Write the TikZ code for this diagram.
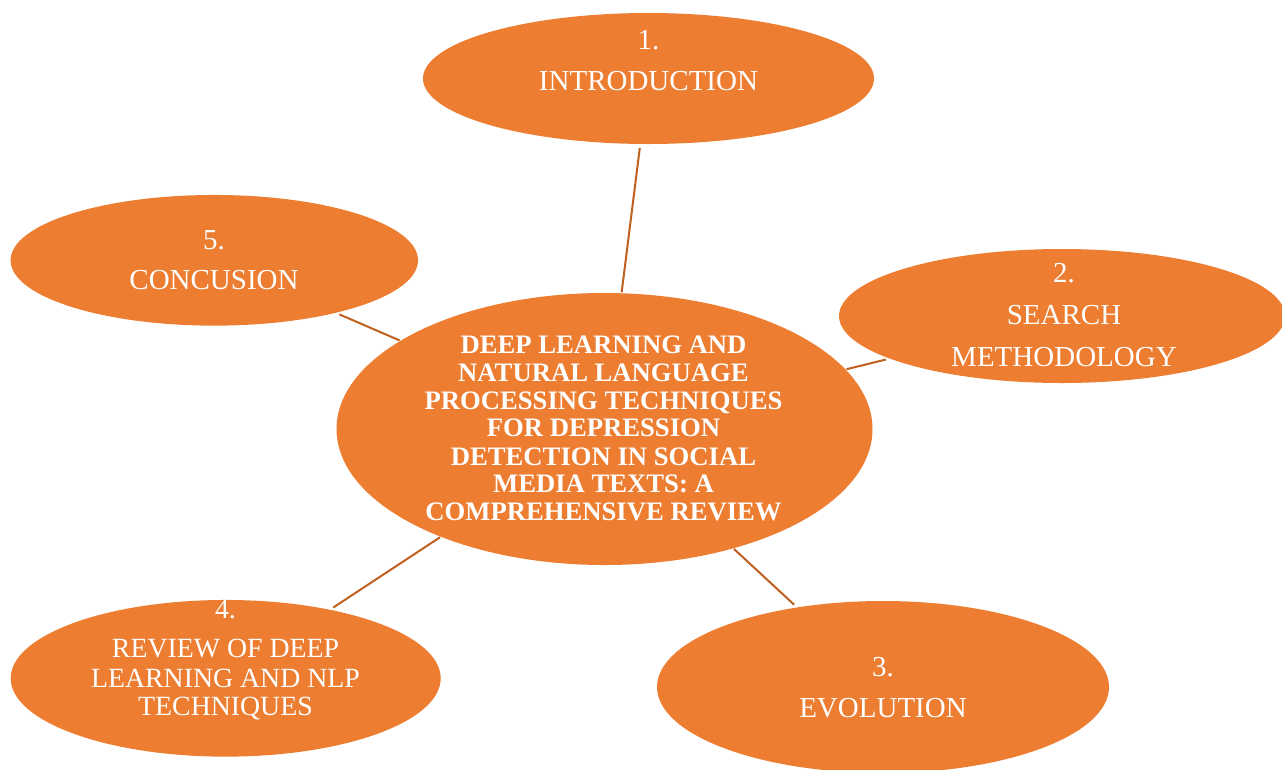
\documentclass[tikz,border=0pt]{standalone}
\usepackage{fontspec}
\setmainfont{Liberation Serif}
\usetikzlibrary{shapes.geometric}
\definecolor{orangefill}{HTML}{ED7D31}
\definecolor{linkcol}{HTML}{C0601F}
\tikzset{
  oval/.style={ellipse, fill=orangefill, draw=none, inner sep=0pt, outer sep=0pt},
  conn/.style={draw=linkcol, line width=1.5pt, shorten >=3pt, shorten <=0.75pt},
  lbl/.style={text=white, anchor=base, inner sep=0pt, font=\fontsize{21.75}{26}\selectfont},
  lblr/.style={text=white, anchor=base, inner sep=0pt, font=\fontsize{20.85}{25}\selectfont},
  ttl/.style={text=white, anchor=base, inner sep=0pt, font=\bfseries\fontsize{20}{24}\selectfont}
}
\begin{document}
\begin{tikzpicture}[x=0.75pt,y=-0.75pt]
\useasboundingbox (0,0) rectangle (1282,769);
% ellipses
\node[oval, minimum width=338.25pt, minimum height=98.25pt] (intro) at (648.5,78.5) {};
\node[oval, minimum width=305.6pt, minimum height=98pt] (conc) at (214.3,260.3) {};
\node[oval, minimum width=334.5pt, minimum height=100.5pt] (search) at (1062,316) {};
\node[oval, minimum width=402pt, minimum height=204pt] (central) at (604.5,429) {};
\node[oval, minimum width=322.5pt, minimum height=117.5pt] (review) at (225.7,678.3) {};
\node[oval, minimum width=339pt, minimum height=129pt] (evol) at (883,687) {};
% connectors
\draw[conn] (central) -- (intro);
\draw[conn] (central) -- (conc);
\draw[conn] (central) -- (search);
\draw[conn] (central) -- (review);
\draw[conn] (central) -- (evol);
% texts
\node[lbl] (t1a) at (648.5,49.3) {1.};
\node[lbl] (t1b) at (648.5,90.7) {INTRODUCTION};
\node[lbl] (t5a) at (214,249.3) {5.};
\node[lbl] (t5b) at (214,289) {CONCUSION};
\node[lbl] (t2a) at (1064,282.7) {2.};
\node[lbl] (t2b) at (1064,324) {SEARCH};
\node[lbl] (t2c) at (1064,366.7) {METHODOLOGY};
\node[lbl] (t3a) at (883,676) {3.};
\node[lbl] (t3b) at (883,717.7) {EVOLUTION};
\node[lblr] (t4a) at (225.5,618) {4.};
\node[lblr] (t4b) at (225.5,657.7) {REVIEW OF DEEP};
\node[lblr] (t4c) at (225.5,687.3) {LEARNING AND NLP};
\node[lblr] (t4d) at (225.5,715.7) {TECHNIQUES};
\node[ttl] (c1) at (603.5,353.7) {DEEP LEARNING AND};
\node[ttl] (c2) at (603.5,381.7) {NATURAL LANGUAGE};
\node[ttl] (c3) at (603.5,409.3) {PROCESSING TECHNIQUES};
\node[ttl] (c4) at (603.5,436.7) {FOR DEPRESSION};
\node[ttl] (c5) at (603.5,465) {DETECTION IN SOCIAL};
\node[ttl] (c6) at (603.5,492.7) {MEDIA TEXTS: A};
\node[ttl] (c7) at (603.5,520) {COMPREHENSIVE REVIEW};
\end{tikzpicture}
\end{document}
